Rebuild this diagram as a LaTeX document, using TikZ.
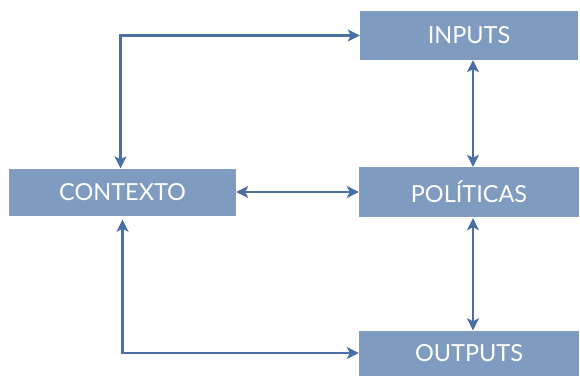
\documentclass[tikz,border=0pt]{standalone}
\usepackage{fontspec}
\setmainfont{Lato}
\usetikzlibrary{arrows.meta, positioning}
\definecolor{boxblue}{RGB}{127,155,192}
\definecolor{lineblue}{RGB}{74,111,166}

\begin{document}
\begin{tikzpicture}[x=1pt, y=-1pt,
  block/.style={fill=boxblue, text=white, font=\fontsize{23.5}{27}\selectfont, inner sep=0pt},
  link/.style={draw=lineblue, line width=2.8pt, {Stealth[length=12pt,width=12pt,inset=3pt]}-{Stealth[length=12pt,width=12pt,inset=3pt]}}]
\useasboundingbox (0,0) rectangle (580,375);
\node [block, minimum width=218pt, minimum height=49pt] (IN) at (469,35.5) {INPUTS};
\node [block, minimum width=227pt, minimum height=47pt] (CTX) at (122.5,192) {CONTEXTO};
\node [block, minimum width=220pt, minimum height=50pt] (POL) at (469,192) {POLÍTICAS};
\node [block, minimum width=220pt, minimum height=45pt] (OUT) at (469,353) {OUTPUTS};
\draw[link] ([xshift=-2pt]CTX.north) |- (IN.west);
\draw[link, shorten <=4pt] (CTX.south) |- (OUT.west);
\draw[link] (CTX.east) -- (POL.west);
\draw[link] ([xshift=4pt]IN.south) -- ([xshift=4pt]POL.north);
\draw[link, shorten <=1pt] ([xshift=4pt]POL.south) -- ([xshift=4pt]OUT.north);
\end{tikzpicture}
\end{document}
